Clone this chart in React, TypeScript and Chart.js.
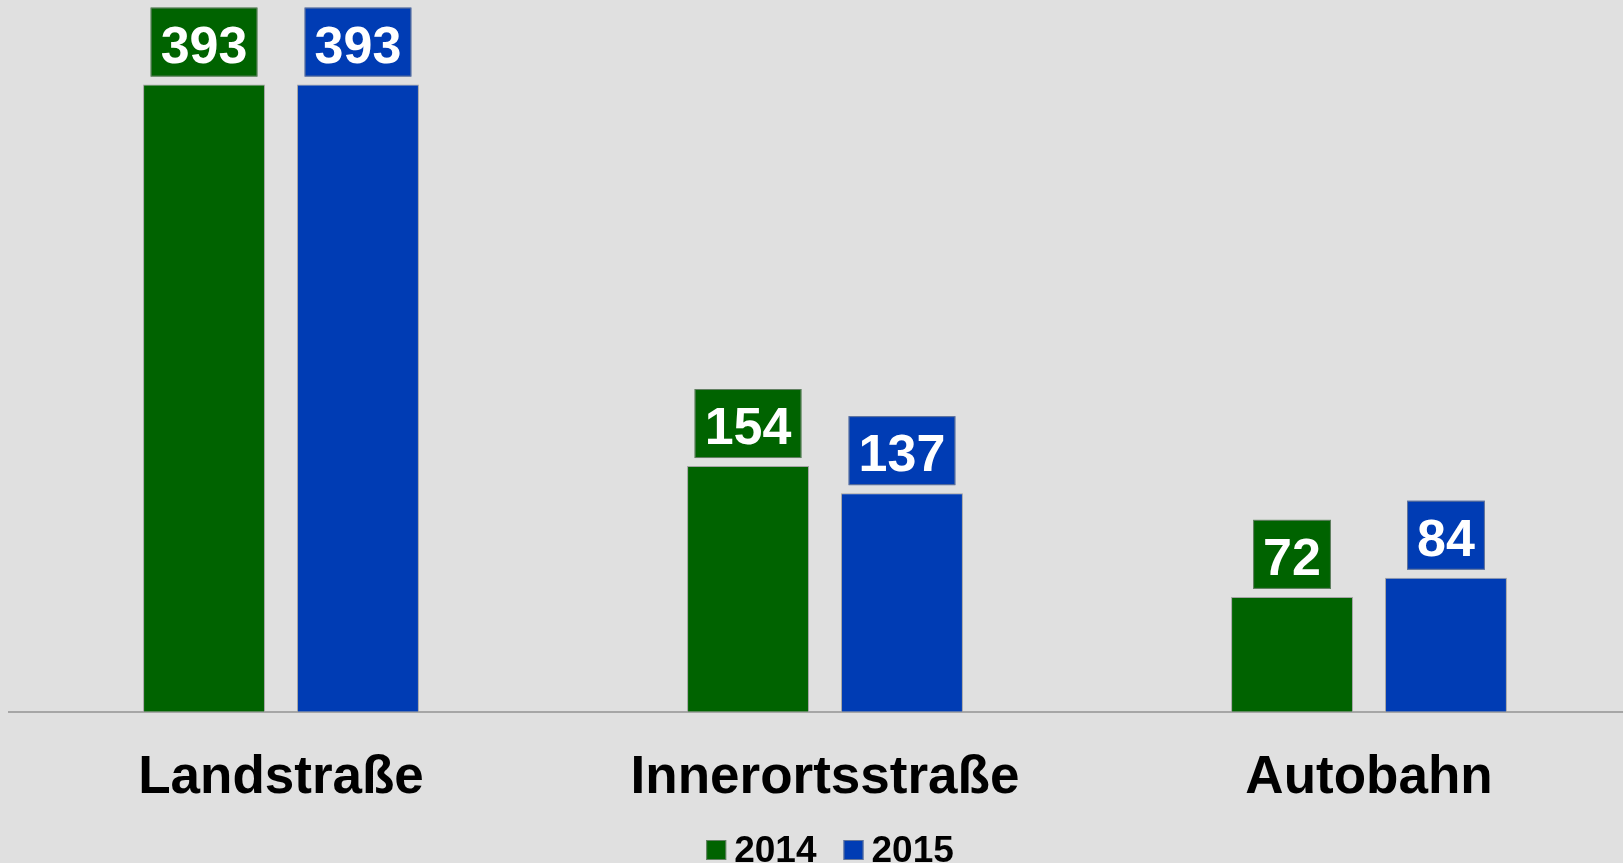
import React, { useEffect, useRef } from "react";
import { Chart, registerables } from "chart.js";

Chart.register(...registerables);

const categories = ["Landstraße", "Innerortsstraße", "Autobahn"];
const series2014 = [393, 154, 72];
const series2015 = [393, 137, 84];
const seriesNames = ["2014", "2015"];
const colors = ["#006300", "#003CB4"];

const FONT = "'Liberation Sans', Arial, sans-serif";

const valueLabelPlugin = {
  id: "valueLabels",
  afterDatasetsDraw(chart: any) {
    const ctx = chart.ctx;
    ctx.save();
    ctx.font = `bold 52px ${FONT}`;
    chart.data.datasets.forEach((ds: any, di: number) => {
      const meta = chart.getDatasetMeta(di);
      meta.data.forEach((bar: any, i: number) => {
        const txt = String(ds.data[i]);
        const tw = ctx.measureText(txt).width;
        const w = tw + 20;
        const h = 69;
        const bx = bar.x - w / 2;
        const by = bar.y - 8 - h;
        ctx.fillStyle = ds.backgroundColor;
        ctx.fillRect(bx, by, w, h);
        ctx.strokeStyle = "rgba(140,140,140,0.7)";
        ctx.lineWidth = 1;
        ctx.strokeRect(bx + 0.5, by + 0.5, w - 1, h - 1);
        ctx.fillStyle = "#ffffff";
        ctx.textAlign = "center";
        ctx.textBaseline = "alphabetic";
        ctx.fillText(txt, bar.x, by + 55);
      });
    });
    ctx.restore();
  },
};

const legendPlugin = {
  id: "customLegend",
  afterDraw(chart: any) {
    const ctx = chart.ctx;
    const area = chart.chartArea;
    ctx.save();
    ctx.font = `bold 37px ${FONT}`;
    const box = 20;
    const gap = 8;
    const itemGap = 27;
    const widths = seriesNames.map((n) => ctx.measureText(n).width);
    const total =
      widths.reduce((a, b) => a + b, 0) + seriesNames.length * (box + gap) + itemGap * (seriesNames.length - 1);
    let x = (area.left + area.right) / 2 + 5 - total / 2;
    const baseline = chart.height - 1;
    seriesNames.forEach((n, i) => {
      ctx.fillStyle = colors[i];
      ctx.fillRect(x, baseline - 22, box, box);
      ctx.strokeStyle = "rgba(140,140,140,0.7)";
      ctx.lineWidth = 1;
      ctx.strokeRect(x + 0.5, baseline - 21.5, box - 1, box - 1);
      x += box + gap;
      ctx.fillStyle = "#000";
      ctx.textAlign = "left";
      ctx.textBaseline = "alphabetic";
      ctx.fillText(n, x, baseline);
      x += widths[i] + itemGap;
    });
    ctx.restore();
  },
};

export default function App() {
  const ref = useRef<HTMLCanvasElement>(null);
  useEffect(() => {
    document.body.style.margin = "0";
    const chart = new Chart(ref.current!, {
      type: "bar",
      data: {
        labels: categories,
        datasets: [
          {
            label: seriesNames[0],
            data: series2014,
            backgroundColor: colors[0],
            borderColor: "rgba(140,140,140,0.7)",
            borderWidth: 1,
            categoryPercentage: 0.566,
            barPercentage: 0.792,
          },
          {
            label: seriesNames[1],
            data: series2015,
            backgroundColor: colors[1],
            borderColor: "rgba(140,140,140,0.7)",
            borderWidth: 1,
            categoryPercentage: 0.566,
            barPercentage: 0.792,
          },
        ],
      },
      options: {
        responsive: false,
        animation: false,
        layout: { padding: { left: 9, right: 0, top: 0, bottom: 17.6 } },
        plugins: {
          legend: { display: false },
          tooltip: { enabled: false },
        },
        scales: {
          x: {
            grid: { display: false, drawTicks: false },
            border: { display: true, color: "#a6a6a6", width: 2 },
            ticks: {
              color: "#000",
              padding: 35,
              font: { family: FONT, weight: "bold", size: 53 },
            },
          },
          y: {
            display: false,
            min: 0,
            max: 446,
          },
        },
      },
      plugins: [valueLabelPlugin, legendPlugin],
    });
    return () => chart.destroy();
  }, []);
  return (
    <div
      style={{
        position: "fixed",
        left: 0,
        top: 0,
        width: 1623,
        height: 863,
        overflow: "hidden",
        background: "#e0e0e0",
      }}
    >
      <canvas ref={ref} width={1641} height={863} style={{ display: "block" }} />
    </div>
  );
}
